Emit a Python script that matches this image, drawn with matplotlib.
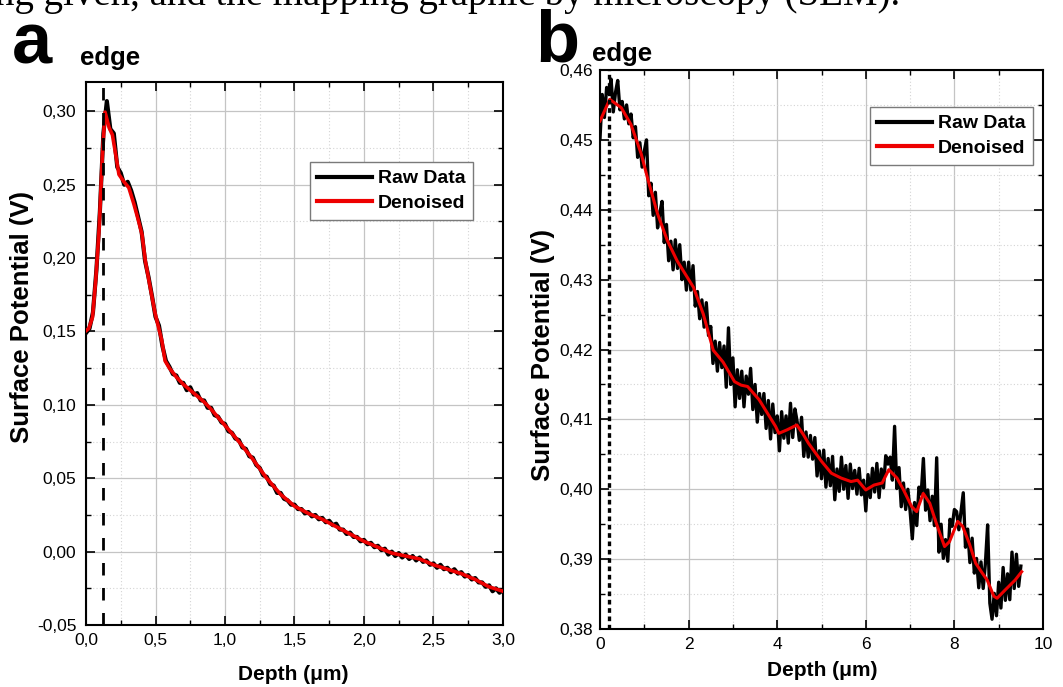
import numpy as np
import matplotlib
matplotlib.use('Agg')
import matplotlib.pyplot as plt
from matplotlib.ticker import MultipleLocator, FuncFormatter

plt.rcParams['font.family'] = ['Liberation Sans', 'DejaVu Sans']

# ---------------- panel a data ----------------
den_a_depth = [0.000, 0.020, 0.047, 0.070, 0.095, 0.118, 0.137, 0.166, 0.190, 0.213,
               0.237, 0.273, 0.308, 0.344, 0.379, 0.403, 0.427, 0.462, 0.498, 0.545,
               0.569, 0.60, 0.65, 0.70, 0.75, 0.80, 0.85, 0.90, 1.00, 1.10,
               1.20, 1.30, 1.40, 1.50, 1.60, 1.70, 1.80, 1.90, 2.00, 2.10,
               2.20, 2.30, 2.40, 2.50, 2.60, 2.70, 2.80, 2.90, 3.00]
den_a_pot = [0.1505, 0.1520, 0.1597, 0.185, 0.2208, 0.2706, 0.2995, 0.289, 0.284, 0.271,
             0.257, 0.252, 0.248, 0.237, 0.225, 0.216, 0.198, 0.180, 0.162, 0.144,
             0.130, 0.125, 0.119, 0.114, 0.110, 0.106, 0.102, 0.097, 0.086, 0.075,
             0.063, 0.050, 0.039, 0.031, 0.026, 0.022, 0.017, 0.012, 0.007, 0.003,
             -0.001, -0.003, -0.005, -0.009, -0.012, -0.015, -0.019, -0.024, -0.027]

raw_a_step = 0.025
raw_a_pot = [0.149, 0.152, 0.163, 0.192, 0.232, 0.285, 0.307, 0.288, 0.285, 0.262,
             0.258, 0.250, 0.252, 0.246, 0.238, 0.228, 0.218, 0.198, 0.187, 0.174,
             0.160, 0.154, 0.140, 0.130, 0.126, 0.121, 0.120, 0.115, 0.115, 0.110,
             0.112, 0.107, 0.108, 0.103, 0.103, 0.098, 0.098, 0.093, 0.092, 0.088,
             0.087, 0.082, 0.081, 0.077, 0.076, 0.071, 0.070, 0.065, 0.064, 0.059,
             0.057, 0.052, 0.051, 0.046, 0.045, 0.040, 0.040, 0.036, 0.035, 0.032,
             0.032, 0.029, 0.029, 0.026, 0.027, 0.024, 0.025, 0.022, 0.023, 0.020,
             0.021, 0.018, 0.019, 0.015, 0.015, 0.012, 0.013, 0.010, 0.010, 0.007,
             0.008, 0.005, 0.006, 0.003, 0.004, 0.001, 0.002, -0.002, 0.000, -0.003,
             -0.001, -0.004, -0.002, -0.005, -0.003, -0.006, -0.004, -0.007, -0.006, -0.009,
             -0.008, -0.011, -0.009, -0.012, -0.011, -0.014, -0.012, -0.015, -0.014, -0.017,
             -0.016, -0.019, -0.018, -0.021, -0.021, -0.024, -0.023, -0.027, -0.025, -0.028,
             -0.026]
edge_a = 0.125

# ---------------- panel b data ----------------
den_b_depth = [0.00, 0.22, 0.48, 0.70, 0.93, 1.07, 1.30, 1.52, 1.74, 2.11,
               2.33, 2.556, 2.778, 3.037, 3.185, 3.333, 3.593, 3.963, 4.037, 4.222,
               4.444, 4.593, 4.704, 5.00, 5.222, 5.444, 5.667, 5.815, 6.00, 6.185,
               6.370, 6.519, 6.704, 6.852, 7.037, 7.148, 7.296, 7.444, 7.593, 7.778,
               7.889, 8.074, 8.185, 8.333, 8.481, 8.630, 8.741, 8.889, 8.963, 9.148,
               9.370, 9.519]
den_b_pot = [0.4527, 0.4558, 0.4546, 0.4522, 0.4480, 0.4446, 0.4394, 0.4356, 0.4327, 0.4289,
             0.4251, 0.4199, 0.4182, 0.4154, 0.4149, 0.4147, 0.4128, 0.4090, 0.4080, 0.4085,
             0.4092, 0.4078, 0.4066, 0.4040, 0.4023, 0.4016, 0.4011, 0.4013, 0.3999, 0.4006,
             0.4009, 0.4028, 0.4016, 0.3999, 0.3975, 0.3968, 0.3994, 0.3980, 0.3951, 0.3918,
             0.3925, 0.3954, 0.3947, 0.3923, 0.3894, 0.3880, 0.3870, 0.3847, 0.3844, 0.3856,
             0.3870, 0.3882]

raw_b_step = 0.05
raw_b_pot = [0.4502, 0.4565, 0.4532, 0.4575, 0.4566, 0.4587, 0.4540, 0.4568, 0.4585, 0.4543,
             0.4555, 0.4530, 0.4550, 0.4523, 0.4537, 0.4503, 0.4519, 0.4475, 0.4496, 0.4461,
             0.4484, 0.4500, 0.4420, 0.4438, 0.4392, 0.4425, 0.4374, 0.4395, 0.4412, 0.4353,
             0.4379, 0.4327, 0.4355, 0.4314, 0.4357, 0.4316, 0.4350, 0.4300, 0.4325, 0.4285,
             0.4325, 0.4285, 0.4320, 0.4262, 0.4283, 0.4244, 0.4271, 0.4232, 0.4267, 0.4220,
             0.4233, 0.4180, 0.4212, 0.4169, 0.4210, 0.4174, 0.4205, 0.4146, 0.4231, 0.4150,
             0.4188, 0.4118, 0.4171, 0.4130, 0.4169, 0.4118, 0.4162, 0.4136, 0.4173, 0.4114,
             0.4150, 0.4096, 0.4137, 0.4107, 0.4137, 0.4087, 0.4127, 0.4072, 0.4122, 0.4081,
             0.4105, 0.4055, 0.4111, 0.4073, 0.4105, 0.4066, 0.4123, 0.4074, 0.4115, 0.4097,
             0.4070, 0.4103, 0.4047, 0.4082, 0.4046, 0.4077, 0.4043, 0.4074, 0.4019, 0.4055,
             0.4015, 0.4056, 0.4003, 0.4044, 0.4005, 0.4047, 0.3985, 0.4029, 0.3997, 0.4046,
             0.4000, 0.4034, 0.3987, 0.4036, 0.4001, 0.4027, 0.3993, 0.4030, 0.3992, 0.4013,
             0.3969, 0.4021, 0.3988, 0.4030, 0.3996, 0.4037, 0.3988, 0.4029, 0.4002, 0.4048,
             0.4036, 0.4046, 0.4013, 0.4090, 0.4001, 0.4031, 0.3975, 0.4009, 0.3971, 0.4000,
             0.3969, 0.3929, 0.3981, 0.3948, 0.4003, 0.3993, 0.4044, 0.3970, 0.3999, 0.3955,
             0.3990, 0.3948, 0.4045, 0.3910, 0.3950, 0.3901, 0.3928, 0.3897, 0.3957, 0.3947,
             0.3971, 0.3968, 0.3942, 0.3969, 0.3995, 0.3917, 0.3943, 0.3895, 0.3930, 0.3880,
             0.3901, 0.3859, 0.3896, 0.3858, 0.3894, 0.3949, 0.3837, 0.3814, 0.3851, 0.3819,
             0.3867, 0.3830, 0.3888, 0.3841, 0.3879, 0.3842, 0.3910, 0.3858, 0.3907, 0.3861,
             0.3890]
edge_b = 0.2

legend_labels = ['Raw Data', 'Denoised']
top_caption = 'ng given, and the mapping graphic by microscopy (SEM).'


def comma_fmt(dec):
    return FuncFormatter(lambda v, p: f'{v:.{dec}f}'.replace('.', ','))


def style_axes(ax):
    ax.set_axisbelow(True)
    ax.grid(which='major', color='#c4c4c4', lw=0.9, ls='-')
    ax.grid(which='minor', color='#d4d4d4', lw=0.8, ls=(0, (1, 2)))
    ax.tick_params(which='both', direction='in', top=True, right=True,
                   labelsize=12.5, colors='black')
    ax.tick_params(which='major', length=6.5, width=1.2)
    ax.tick_params(which='minor', length=3.5, width=1.0)
    for s in ax.spines.values():
        s.set_linewidth(1.5)


def add_legend(ax, anchor):
    leg = ax.legend(loc='upper right', bbox_to_anchor=anchor,
                    prop={'weight': 'bold', 'size': 14}, fancybox=False,
                    edgecolor='#7a7a7a', framealpha=1, handlelength=2.8, borderpad=0.4,
                    labelspacing=0.35, handletextpad=0.3, borderaxespad=0)
    leg.get_frame().set_linewidth(1.0)
    for ln in leg.get_lines():
        ln.set_linewidth(3.0)
    return leg


W, H = 1063, 687
fig = plt.figure(figsize=(W / 100, H / 100), dpi=100)

# ---------------- panel a ----------------
ax = fig.add_axes([86 / W, 1 - 625 / H, 417 / W, 543 / H])
raw_a_depth = np.arange(len(raw_a_pot)) * raw_a_step
ax.plot(raw_a_depth, raw_a_pot, color='black', lw=3.0, label=legend_labels[0], zorder=3)
ax.plot(den_a_depth, den_a_pot, color='#ee0000', lw=2.6, label=legend_labels[1], zorder=4)
ax.axvline(edge_a, color='black', lw=2.0, ls=(0, (4.5, 4.5)), zorder=5)
ax.set_xlim(0, 3.0)
ax.set_ylim(-0.05, 0.32)
ax.xaxis.set_major_locator(MultipleLocator(0.5))
ax.xaxis.set_minor_locator(MultipleLocator(0.25))
ax.yaxis.set_major_locator(MultipleLocator(0.05))
ax.yaxis.set_minor_locator(MultipleLocator(0.025))
ax.xaxis.set_major_formatter(comma_fmt(1))
ax.yaxis.set_major_formatter(comma_fmt(2))
style_axes(ax)
ax.tick_params(axis='x', pad=6)
ax.tick_params(axis='y', pad=7)
add_legend(ax, ((473 - 86) / 417, (625 - 162) / 543))

fig.text(293 / W, 1 - 675 / H, 'Depth (\u03bcm)', ha='center', va='center',
         fontsize=15, fontweight='bold')
fig.text(22 / W, 1 - 317 / H, 'Surface Potential (V)', ha='center', va='center',
         rotation=90, fontsize=18.5, fontweight='bold')
fig.text(80 / W, 1 - 65 / H, 'edge', ha='left', va='baseline', fontsize=18.5, fontweight='bold')
fig.text(12 / W, 1 - 63 / H, 'a', ha='left', va='baseline', fontsize=52, fontweight='bold')

# ---------------- panel b ----------------
bx = fig.add_axes([600 / W, 1 - 629 / H, 443 / W, 559 / H])
raw_b_depth = np.arange(len(raw_b_pot)) * raw_b_step
bx.plot(raw_b_depth, raw_b_pot, color='black', lw=2.4, label=legend_labels[0], zorder=3)
bx.plot(den_b_depth, den_b_pot, color='#ee0000', lw=2.2, label=legend_labels[1], zorder=4)
bx.axvline(edge_b, color='black', lw=2.4, ls=(0, (1.4, 1.1)), zorder=5)
bx.set_xlim(0, 10)
bx.set_ylim(0.38, 0.46)
bx.xaxis.set_major_locator(MultipleLocator(2))
bx.xaxis.set_minor_locator(MultipleLocator(1))
bx.yaxis.set_major_locator(MultipleLocator(0.01))
bx.yaxis.set_minor_locator(MultipleLocator(0.005))
bx.xaxis.set_major_formatter(comma_fmt(0))
bx.yaxis.set_major_formatter(comma_fmt(2))
style_axes(bx)
bx.tick_params(axis='x', pad=6)
bx.tick_params(axis='y', pad=5)
add_legend(bx, ((1033 - 600) / 443, (629 - 107) / 559))

fig.text(822 / W, 1 - 671 / H, 'Depth (\u03bcm)', ha='center', va='center',
         fontsize=15, fontweight='bold')
fig.text(543 / W, 1 - 355 / H, 'Surface Potential (V)', ha='center', va='center',
         rotation=90, fontsize=18.5, fontweight='bold')
fig.text(592 / W, 1 - 61 / H, 'edge', ha='left', va='baseline', fontsize=18.5, fontweight='bold')
fig.text(535 / W, 1 - 61 / H, 'b', ha='left', va='baseline', fontsize=52, fontweight='bold')

# caption line cut off by the crop
fig.text(-0.005, 1 - 5 / H, top_caption, ha='left', va='baseline', fontsize=28,
         family=['Liberation Serif', 'DejaVu Serif'])

fig.savefig('out.png', dpi=100)
